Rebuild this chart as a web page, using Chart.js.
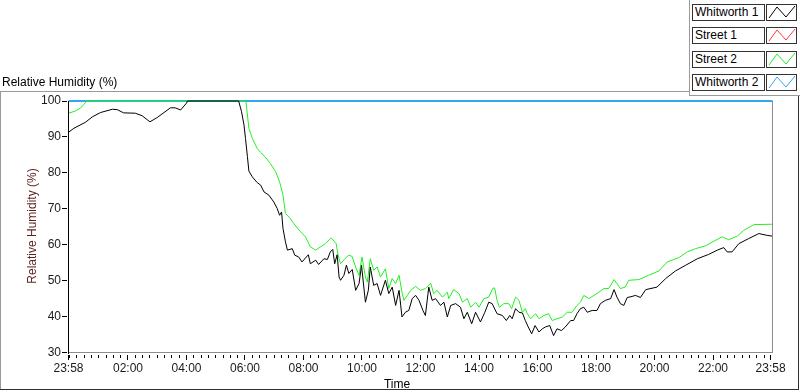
<!DOCTYPE html>
<html>
<head>
<meta charset="utf-8">
<script src="https://cdn.jsdelivr.net/npm/chart.js@4.4.1/dist/chart.umd.min.js"></script>
<style>
    html, body { margin: 0; padding: 0; background: #fff; }
    #wrap { position: relative; width: 800px; height: 392px; overflow: hidden; font-family: "Liberation Sans", Arial, sans-serif; font-size: 12px; color: #000; }
    #chart { position: absolute; left: 0; top: 0; }
    .line { position: absolute; }
    .txt { position: absolute; white-space: nowrap; line-height: 14px; }
    .lab { position: absolute; left: 692px; width: 69px; height: 15px; border: 1px solid #333; background: #fff; line-height: 15px; padding-left: 2px; box-sizing: content-box; }
    .smp { position: absolute; left: 766px; width: 29px; height: 15px; border: 1px solid #333; background: #fff; }
    .smp svg { display: block; }
</style>
</head>
<body>
<div id="wrap">
    <canvas id="chart" width="800" height="392"></canvas>

    <div class="line" style="left:0;top:91px;width:690px;height:1px;background:#9a9a9a"></div>
    <div class="line" style="left:0;top:91px;width:1px;height:299px;background:#9a9a9a"></div>
    <div class="line" style="left:0;top:389px;width:799px;height:1px;background:#303030"></div>
    <div class="line" style="left:798px;top:95px;width:1px;height:295px;background:#303030"></div>
    <div class="line" style="left:689px;top:0;width:1px;height:96px;background:#9a9a9a"></div>
    <div class="line" style="left:689px;top:95px;width:111px;height:1px;background:#9a9a9a"></div>

    <div class="txt" style="left:2px;top:75px">Relative Humidity (%)</div>
    <div class="txt" style="left:32px;top:226px;color:#5a1e1e;transform:translate(-50%,-50%) rotate(-90deg)">Relative Humidity (%)</div>
    <div class="txt" style="left:397px;top:384px;transform:translate(-50%,-50%)">Time</div>
    <div id="legend"></div>
</div>

<script>
// minutes after 23:58 -> relative humidity (%)
const whitworth1Time = [0, 11, 35, 49, 66, 90, 100, 113, 137, 151, 167, 182, 209, 219, 230, 242, 244, 349, 355, 360,
    363, 367, 370, 377, 387, 394, 401, 411, 421, 428, 433, 437, 440, 445, 449, 459, 464, 472, 479, 486,
    492, 496, 507, 513, 524, 531, 537, 542, 546, 551, 555, 558, 565, 570, 575, 582, 589, 596, 601, 609,
    615, 619, 626, 633, 640, 650, 657, 664, 671, 678, 684, 691, 698, 705, 712, 719, 727, 732, 739, 746,
    753, 763, 770, 777, 784, 794, 804, 811, 818, 827, 835, 845, 854, 862, 869, 879, 890, 898, 905, 910,
    917, 924, 931, 937, 943, 950, 957, 965, 972, 978, 987, 995, 1002, 1011, 1019, 1030, 1036, 1043, 1050, 1057,
    1064, 1074, 1084, 1091, 1101, 1112, 1119, 1125, 1132, 1139, 1146, 1156, 1163, 1173, 1184, 1207, 1225, 1245, 1266, 1290,
    1313, 1331, 1344, 1351, 1361, 1375, 1395, 1416, 1433, 1443];
const whitworth1Value = [91.3, 92.4, 94.1, 95.6, 96.8, 97.7, 97.6, 96.7, 96.6, 95.9, 94.2, 95.4, 98.1, 98.1, 97.5, 99.4, 100, 100, 97.0, 93.3,
    89.6, 84.5, 80.5, 78.9, 77.3, 76.6, 74.7, 73.8, 71.9, 70.1, 68.2, 69.1, 64.5, 60.8, 58.5, 58.9, 57.1, 56.6, 55.2, 56.3,
    57.2, 54.7, 55.7, 54.5, 56.1, 55.9, 58.0, 58.7, 54.7, 57.2, 51.0, 50.1, 51.5, 54.3, 52.0, 53.1, 47.3, 49.2, 54.3, 44.0,
    47.3, 53.8, 48.7, 49.2, 45.9, 50.1, 46.4, 48.2, 43.1, 47.3, 39.9, 41.2, 41.7, 45.0, 45.9, 44.5, 41.7, 40.3, 48.2, 44.5,
    45.0, 43.1, 44.0, 39.9, 43.1, 43.6, 42.6, 39.4, 41.2, 38.0, 41.2, 38.5, 41.2, 44.0, 43.6, 40.8, 40.3, 38.9, 40.3, 39.4,
    42.2, 41.2, 41.0, 38.9, 37.1, 35.2, 37.5, 35.7, 36.6, 37.1, 37.5, 34.7, 36.6, 36.1, 37.1, 38.9, 38.9, 40.8, 42.2, 42.6,
    41.2, 41.7, 41.7, 43.6, 44.5, 45.0, 47.5, 45.4, 43.6, 43.1, 45.3, 45.6, 45.9, 45.3, 47.5, 48.2, 50.6, 52.7, 54.3, 56.1,
    57.3, 58.5, 59.2, 58.0, 58.0, 60.3, 61.7, 63.1, 62.6, 62.4];

const street1Time = [];
const street1Value = [];

const street2Time = [0, 14, 25, 38, 364, 367, 370, 377, 387, 394, 403, 414, 425, 433, 440, 445, 455, 462, 476, 486,
    496, 507, 517, 527, 539, 549, 553, 558, 567, 575, 582, 589, 596, 602, 609, 613, 619, 626, 633, 640,
    650, 657, 664, 671, 678, 684, 688, 695, 702, 712, 722, 732, 743, 749, 756, 767, 777, 780, 790, 801,
    808, 818, 825, 835, 842, 852, 862, 870, 874, 879, 884, 893, 903, 909, 917, 924, 931, 937, 941, 948,
    958, 965, 975, 985, 992, 1002, 1013, 1023, 1033, 1043, 1050, 1057, 1067, 1078, 1088, 1098, 1108, 1119, 1125, 1132,
    1142, 1149, 1170, 1190, 1211, 1228, 1252, 1269, 1286, 1307, 1324, 1341, 1354, 1372, 1385, 1406, 1443];
const street2Value = [96.6, 97.2, 98.1, 100, 100, 96.1, 92.4, 89.6, 86.8, 85.7, 84.5, 82.6, 80.3, 77.5, 73.8, 68.7, 67.3, 65.9, 63.6, 62.2,
    59.4, 58.5, 59.4, 60.3, 61.9, 60.3, 57.1, 54.7, 56.1, 57.1, 56.7, 53.8, 51.5, 56.6, 51.0, 49.6, 56.1, 52.9, 53.8, 51.0,
    53.3, 47.8, 50.6, 49.2, 51.5, 46.8, 44.5, 45.9, 47.3, 48.4, 47.3, 47.8, 49.3, 46.4, 47.3, 45.4, 46.8, 45.0, 47.5, 46.4,
    44.0, 45.0, 42.6, 44.0, 42.6, 45.0, 45.4, 47.8, 48.0, 44.5, 42.6, 43.6, 43.6, 42.2, 45.4, 44.5, 41.2, 42.2, 40.8, 39.4,
    40.8, 39.4, 40.3, 40.8, 38.9, 39.4, 39.9, 41.2, 41.2, 43.1, 44.0, 45.9, 45.0, 45.9, 46.8, 47.8, 47.8, 50.3, 49.2, 47.8,
    48.2, 50.1, 50.3, 51.5, 52.7, 55.2, 56.4, 58.0, 58.9, 59.7, 61.0, 62.2, 61.4, 62.4, 64.0, 65.6, 65.7];

const whitworth2Time = [0, 1444];
const whitworth2Value = [100, 100];

const seriesNames = ['Whitworth 1', 'Street 1', 'Street 2', 'Whitworth 2'];
const seriesColors = ['#000000', '#ff3a3a', '#22f022', '#2fa8f0'];
const seriesWidths = [1, 1, 1, 2];

const xTickMinutes = [0, 122, 242, 362, 482, 602, 722, 842, 962, 1082, 1202, 1322, 1440];
const xTickLabels = ['23:58', '02:00', '04:00', '06:00', '08:00', '10:00', '12:00', '14:00', '16:00', '18:00', '20:00', '22:00', '23:58'];
const yTicks = [30, 40, 50, 60, 70, 80, 90, 100];

function pairs(times, values) {
    return times.map((t, i) => ({ x: t, y: values[i] }));
}

const seriesData = [
    pairs(whitworth1Time, whitworth1Value),
    pairs(street1Time, street1Value),
    pairs(street2Time, street2Value),
    pairs(whitworth2Time, whitworth2Value)
];

// legend boxes with zigzag samples
const legend = document.getElementById('legend');
seriesNames.forEach((name, i) => {
    const top = Math.round(4 + i * 23.3);
    legend.insertAdjacentHTML('beforeend',
        '<div class="txt lab" style="top:' + top + 'px">' + name + '</div>' +
        '<div class="smp" style="top:' + top + 'px"><svg width="29" height="15">' +
        '<polyline points="2,13 10,2 19,12 28,1" fill="none" stroke="' + seriesColors[i] + '" stroke-width="1"/></svg></div>');
});

// plot frame and tick marks drawn crisp
const frame = {
    id: 'frame',
    afterDatasetsDraw(chart) {
        const { ctx, chartArea: a, scales } = chart;
        ctx.save();
        ctx.fillStyle = '#8c8c8c';
        ctx.fillRect(Math.floor(a.left), Math.floor(a.bottom), Math.ceil(a.right - a.left) + 1, 1);
        ctx.fillRect(Math.floor(a.right), Math.floor(a.top), 1, Math.ceil(a.bottom - a.top));
        ctx.fillStyle = '#000';
        ctx.fillRect(Math.floor(a.left), Math.floor(a.top), 1, Math.ceil(a.bottom - a.top) + 1);
        yTicks.forEach(v => {
            ctx.fillRect(62, Math.floor(scales.y.getPixelForValue(v)), 5, 1);
        });
        const yb = Math.floor(a.bottom) + 3;
        xTickMinutes.forEach(m => {
            ctx.fillRect(Math.floor(scales.x.getPixelForValue(m)), yb, 1, 5);
        });
        for (let m = 2; m <= 1444; m += 15) {
            if ((m - 2) % 120 === 0 && m !== 2) continue;
            ctx.fillRect(Math.floor(scales.x.getPixelForValue(m)), yb, 1, 3);
        }
        ctx.restore();
    }
};

Chart.defaults.font.family = '"Liberation Sans", Arial, sans-serif';
Chart.defaults.font.size = 12;
Chart.defaults.color = '#1a1a1a';

const ctx = document.getElementById('chart').getContext('2d');
new Chart(ctx, {
    type: 'line',
    data: {
        datasets: seriesNames.map((name, i) => ({
            label: name,
            data: seriesData[i],
            borderColor: seriesColors[i],
            backgroundColor: seriesColors[i],
            borderWidth: seriesWidths[i],
            pointRadius: 0,
            tension: 0,
            fill: false,
            clip: false
        }))
    },
    options: {
        responsive: false,
        animation: false,
        devicePixelRatio: 1,
        layout: { padding: { top: 101, right: 27.5, left: 0, bottom: 0 } },
        plugins: {
            legend: { display: false },
            tooltip: { enabled: false }
        },
        scales: {
            x: {
                type: 'linear',
                min: 0,
                max: 1444,
                grid: { display: false, drawTicks: false },
                border: { display: false },
                afterBuildTicks: scale => { scale.ticks = xTickMinutes.map(v => ({ value: v })); },
                afterFit: scale => { scale.height = 39.5; },
                ticks: {
                    autoSkip: false,
                    maxRotation: 0,
                    padding: 9,
                    color: '#1a1a1a',
                    callback: (value) => xTickLabels[xTickMinutes.indexOf(value)]
                }
            },
            y: {
                min: 30,
                max: 100,
                grid: { display: false, drawTicks: false },
                border: { display: false },
                afterBuildTicks: scale => { scale.ticks = yTicks.map(v => ({ value: v })); },
                afterFit: scale => { scale.width = 68.5; },
                ticks: {
                    padding: 7.5,
                    color: '#1a1a1a'
                }
            }
        }
    },
    plugins: [frame]
});
</script>
</body>
</html>
